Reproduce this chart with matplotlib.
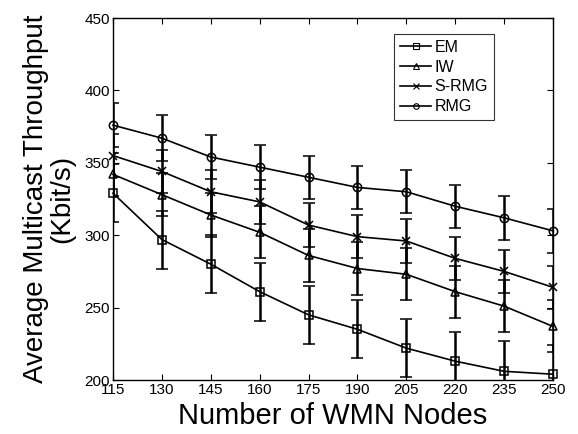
import numpy as np
import matplotlib.pyplot as plt
from matplotlib.lines import Line2D

plt.rcParams['font.family'] = ['Liberation Sans', 'DejaVu Sans']

nodes = [115, 130, 145, 160, 175, 190, 205, 220, 235, 250]
em = [329, 297, 280, 261, 245, 235, 222, 213, 206, 204]
iw = [342, 328, 314, 302, 286, 277, 273, 261, 251, 237]
srmg = [355, 344, 330, 323, 307, 299, 296, 284, 275, 264]
rmg = [376, 367, 354, 347, 340, 333, 330, 320, 312, 303]
em_err = [20, 20, 20, 20, 20, 20, 20, 20, 21, 20]
iw_err = [15, 15, 15, 18, 18, 18, 18, 18, 18, 18]
srmg_err = [15, 15, 15, 15, 15, 15, 15, 15, 15, 15]
rmg_err = [15, 16, 15, 15, 15, 15, 15, 15, 15, 15]

fig = plt.figure(figsize=(5.78, 4.34), dpi=100)
ax = fig.add_axes([113 / 578, 1 - 380 / 434, 440 / 578, 362 / 434])

series = [(em, em_err, 's', 'EM'), (iw, iw_err, '^', 'IW'),
          (srmg, srmg_err, 'x', 'S-RMG'), (rmg, rmg_err, 'o', 'RMG')]
handles = []
for vals, err, mk, name in series:
    line, caps, bars = ax.errorbar(nodes, vals, yerr=err, color='k', marker=mk, markersize=6,
                                   markerfacecolor='none', markeredgewidth=1.1, linewidth=1.2,
                                   elinewidth=1.8, capsize=4, capthick=1.8)
    # markers at the ends sit on top of the spines
    line.set_clip_on(False)
    handles.append(Line2D([], [], color='k', marker=mk, markersize=4,
                          markerfacecolor='none', markeredgewidth=0.8,
                          linewidth=1.2, label=name))

ax.set_xlim(115, 250)
ax.set_ylim(200, 450)
ax.set_xticks(nodes)
ax.set_yticks(np.arange(200, 451, 50))
ax.tick_params(direction='in', top=True, right=True, labelsize=11, length=4, pad=2)
for s in ax.spines.values():
    s.set_linewidth(1.0)

ax.set_xlabel('Number of WMN Nodes', fontsize=21, labelpad=4)
ax.set_ylabel('Average Multicast Throughput\n(Kbit/s)', fontsize=20, labelpad=7, linespacing=1.0)

leg = ax.legend(handles=handles, loc='upper left', bbox_to_anchor=(0.639, 0.956),
                fontsize=11.5, frameon=True, fancybox=False, edgecolor='k',
                handlelength=1.95, handletextpad=0.2, borderpad=0.37,
                labelspacing=0.3, borderaxespad=0)
leg.get_frame().set_linewidth(0.8)

fig.savefig('out.png', dpi=100)
